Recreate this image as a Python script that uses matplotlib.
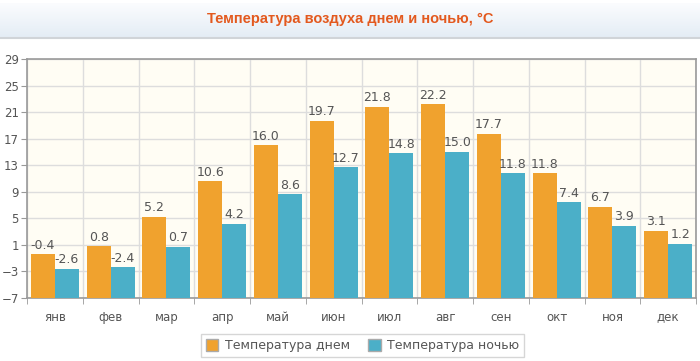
import matplotlib
matplotlib.use('Agg')
import matplotlib.pyplot as plt
import numpy as np

months = ['янв', 'фев', 'мар', 'апр', 'май', 'июн', 'июл', 'авг', 'сен', 'окт', 'ноя', 'дек']
day_temp = [-0.4, 0.8, 5.2, 10.6, 16.0, 19.7, 21.8, 22.2, 17.7, 11.8, 6.7, 3.1]
night_temp = [-2.6, -2.4, 0.7, 4.2, 8.6, 12.7, 14.8, 15.0, 11.8, 7.4, 3.9, 1.2]
yticks = [-7, -3, 1, 5, 9, 13, 17, 21, 25, 29]

orange = '#F0A22E'
teal = '#4BAFC8'
txt = '#555555'

fig = plt.figure(figsize=(7, 3.61), dpi=100)
plt.rcParams['font.family'] = ['DejaVu Sans']

# title band with light gradient (white on top, pale blue at the bottom)
band = fig.add_axes([0, 0.897, 1, 0.094])
grad = np.linspace(0, 1, 50).reshape(-1, 1)
band.imshow(grad, aspect='auto', cmap=matplotlib.colors.LinearSegmentedColormap.from_list(
    'g', ['#FBFCFE', '#E4EDF5']), extent=[0, 1, 0, 1])
band.set_axis_off()
fig.add_artist(plt.Line2D([0, 1], [0.895, 0.895], color='#D0D4D8', lw=1.5))
fig.text(0.5, 0.946, 'Температура воздуха днем и ночью, °C', ha='center', va='center',
         fontsize=10.5, fontweight='bold', color='#E3591E', family=['Liberation Sans', 'DejaVu Sans'])

ax = fig.add_axes([0.0386, 0.1745, 0.9557, 0.662])
ax.set_facecolor('#FFFDF4')
x = np.arange(len(months))
w = 0.43
base = yticks[0]
b1 = ax.bar(x - w / 2, np.array(day_temp) - base, w, bottom=base, color=orange,
            label='Температура днем', zorder=3)
b2 = ax.bar(x + w / 2, np.array(night_temp) - base, w, bottom=base, color=teal,
            label='Температура ночью', zorder=3)

for i in range(len(months)):
    ax.text(x[i] - w / 2, day_temp[i] + 0.4, f'{day_temp[i]:.1f}', ha='center', va='bottom',
            fontsize=9, color=txt, zorder=4)
    ax.text(x[i] + w / 2, night_temp[i] + 0.4, f'{night_temp[i]:.1f}', ha='center', va='bottom',
            fontsize=9, color=txt, zorder=4)

ax.set_xlim(-0.5, len(months) - 0.5)
ax.set_ylim(yticks[0], yticks[-1])
ax.set_yticks(yticks)
ax.set_xticks(x)
ax.set_xticklabels(months)
ax.set_xticks(np.arange(-0.5, len(months), 1), minor=True)
ax.grid(True, axis='y', color='#DDDDDD', lw=1, zorder=0)
ax.grid(True, axis='x', which='minor', color='#DDDDDD', lw=1, zorder=0)
ax.tick_params(axis='x', which='major', length=0, pad=9, labelsize=8.5, labelcolor=txt)
ax.tick_params(axis='x', which='minor', length=4, color='#999999')
ax.tick_params(axis='y', length=4, color='#999999', labelsize=8.5, labelcolor=txt, pad=2)
for s in ax.spines.values():
    s.set_color('#999999')
    s.set_linewidth(1.2)

leg = fig.legend(handles=[b1, b2], loc='center', bbox_to_anchor=(0.518, 0.042), ncol=2,
                 fontsize=9, frameon=True, fancybox=False, edgecolor='#CCCCCC',
                 handlelength=1.0, handleheight=1.0, columnspacing=1.5, handletextpad=0.5,
                 borderpad=0.4)
for t in leg.get_texts():
    t.set_color(txt)
for h in leg.legend_handles:
    h.set_edgecolor('#AAAAAA')

fig.savefig('out.png', dpi=100)
